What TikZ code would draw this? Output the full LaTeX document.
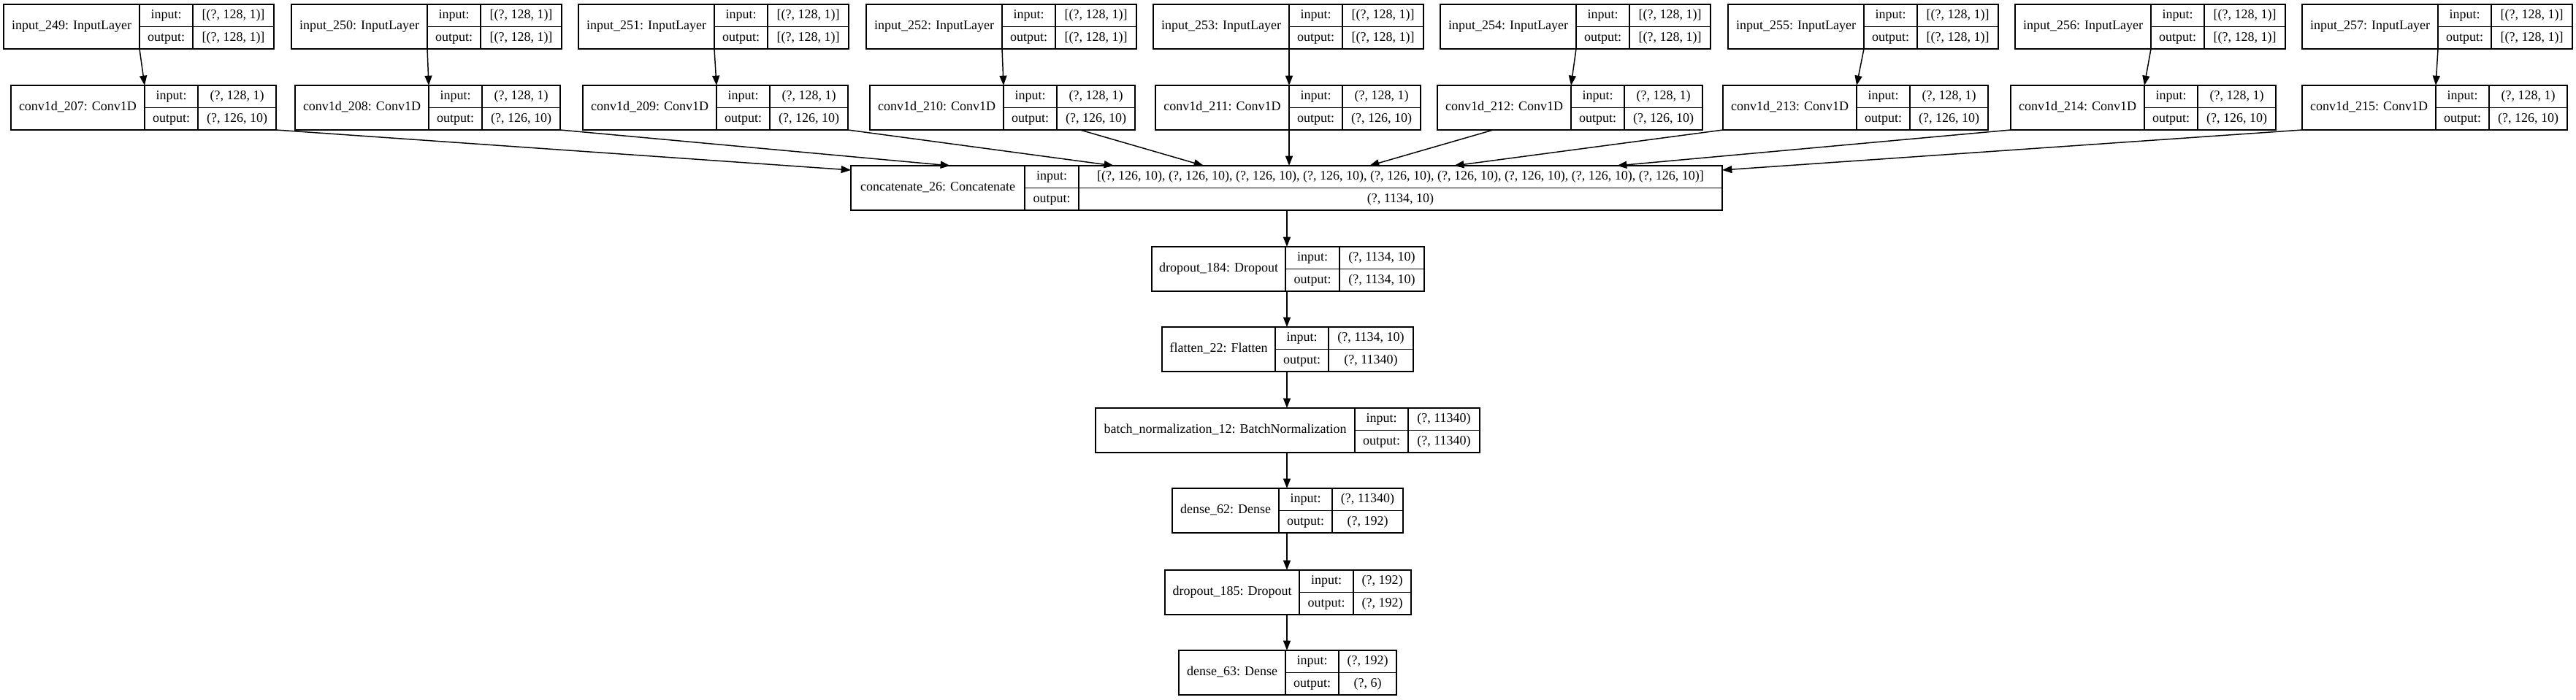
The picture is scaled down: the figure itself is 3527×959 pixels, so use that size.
\documentclass[tikz,border=0pt]{standalone}
\usepackage{fontspec}
\setmainfont{Liberation Serif}
\usetikzlibrary{arrows.meta,calc}

\tikzset{every picture/.style={line width=1.1pt}}
\tikzset{
  cellbox/.style={draw, anchor=north west, inner sep=0pt, outer sep=0pt,
    text height=9.5pt, text depth=3pt, font=\fontsize{13.5}{16}\selectfont},
  namebox/.style={cellbox, minimum height=45.75pt},
  halfbox/.style={cellbox, minimum height=22.875pt},
  flow/.style={-{Triangle[length=10pt,width=7.5pt]}},
}

% #1 name, #2 #3 top left (px), #4 #5 #6 cell widths (px), #7 title, #8 input, #9 output
\newcommand{\keraslayer}[9]{%
  \node[namebox, minimum width=#4*0.75pt] (#1) at (#2,#3) {#7};
  \node[halfbox, minimum width=#5*0.75pt] (#1-il) at (#1.north east) {input:};
  \node[halfbox, minimum width=#6*0.75pt] (#1-iv) at (#1-il.north east) {#8};
  \node[halfbox, minimum width=#5*0.75pt] (#1-ol) at (#1-il.south west) {output:};
  \node[halfbox, minimum width=#6*0.75pt] (#1-ov) at (#1-ol.north east) {#9};
}

\begin{document}
\begin{tikzpicture}[x=0.75pt,y=0.75pt,yscale=-1,xscale=1]
\useasboundingbox (0,0) rectangle (3527,959);

% Input layers
\keraslayer{in249}{5}{6}{186}{73}{111}{input\_249: InputLayer}{[(?, 128, 1)]}{[(?, 128, 1)]}
\keraslayer{in250}{399}{6}{186}{73}{111}{input\_250: InputLayer}{[(?, 128, 1)]}{[(?, 128, 1)]}
\keraslayer{in251}{792}{6}{186}{73}{111}{input\_251: InputLayer}{[(?, 128, 1)]}{[(?, 128, 1)]}
\keraslayer{in252}{1186}{6}{186}{73}{111}{input\_252: InputLayer}{[(?, 128, 1)]}{[(?, 128, 1)]}
\keraslayer{in253}{1579}{6}{186}{73}{111}{input\_253: InputLayer}{[(?, 128, 1)]}{[(?, 128, 1)]}
\keraslayer{in254}{1972}{6}{186}{73}{111}{input\_254: InputLayer}{[(?, 128, 1)]}{[(?, 128, 1)]}
\keraslayer{in255}{2366}{6}{186}{73}{111}{input\_255: InputLayer}{[(?, 128, 1)]}{[(?, 128, 1)]}
\keraslayer{in256}{2759}{6}{186}{73}{111}{input\_256: InputLayer}{[(?, 128, 1)]}{[(?, 128, 1)]}
\keraslayer{in257}{3152}{6}{186}{73}{111}{input\_257: InputLayer}{[(?, 128, 1)]}{[(?, 128, 1)]}

% Conv layers
\keraslayer{c207}{15}{117}{183}{73}{107}{conv1d\_207: Conv1D}{(?, 128, 1)}{(?, 126, 10)}
\keraslayer{c208}{404}{117}{183}{73}{107}{conv1d\_208: Conv1D}{(?, 128, 1)}{(?, 126, 10)}
\keraslayer{c209}{798}{117}{183}{73}{107}{conv1d\_209: Conv1D}{(?, 128, 1)}{(?, 126, 10)}
\keraslayer{c210}{1191}{117}{183}{73}{107}{conv1d\_210: Conv1D}{(?, 128, 1)}{(?, 126, 10)}
\keraslayer{c211}{1582}{117}{183}{73}{107}{conv1d\_211: Conv1D}{(?, 128, 1)}{(?, 126, 10)}
\keraslayer{c212}{1968}{117}{183}{73}{107}{conv1d\_212: Conv1D}{(?, 128, 1)}{(?, 126, 10)}
\keraslayer{c213}{2359}{117}{183}{73}{107}{conv1d\_213: Conv1D}{(?, 128, 1)}{(?, 126, 10)}
\keraslayer{c214}{2753}{117}{183}{73}{107}{conv1d\_214: Conv1D}{(?, 128, 1)}{(?, 126, 10)}
\keraslayer{c215}{3152}{117}{183}{73}{107}{conv1d\_215: Conv1D}{(?, 128, 1)}{(?, 126, 10)}

% Main column
\keraslayer{cat}{1165}{227}{238}{74}{881}{concatenate\_26: Concatenate}{[(?, 126, 10), (?, 126, 10), (?, 126, 10), (?, 126, 10), (?, 126, 10), (?, 126, 10), (?, 126, 10), (?, 126, 10), (?, 126, 10)]}{(?, 1134, 10)}
\keraslayer{d184}{1577}{338}{183}{74}{116}{dropout\_184: Dropout}{(?, 1134, 10)}{(?, 1134, 10)}
\keraslayer{fl22}{1591}{448}{155}{73}{116}{flatten\_22: Flatten}{(?, 1134, 10)}{(?, 11340)}
\keraslayer{bn12}{1500}{559}{355}{73}{98}{batch\_normalization\_12: BatchNormalization}{(?, 11340)}{(?, 11340)}
\keraslayer{de62}{1605}{669}{146}{73}{97}{dense\_62: Dense}{(?, 11340)}{(?, 192)}
\keraslayer{d185}{1595}{781}{184}{74}{79}{dropout\_185: Dropout}{(?, 192)}{(?, 192)}
\keraslayer{de63}{1614}{891}{146}{73}{79}{dense\_63: Dense}{(?, 192)}{(?, 6)}

% Input -> conv
\draw[flow] (in249.south east) -- (c207.north east);
\draw[flow] (in250.south east) -- (c208.north east);
\draw[flow] (in251.south east) -- (c209.north east);
\draw[flow] (in252.south east) -- (c210.north east);
\draw[flow] (in253.south east) -- (c211.north east);
\draw[flow] (in254.south east) -- (c212.north east);
\draw[flow] (in255.south east) -- (c213.north east);
\draw[flow] (in256.south east) -- (c214.north east);
\draw[flow] (in257.south east) -- (c215.north east);

% Conv -> concatenate
\draw[flow] (c207-ov.south east) -- ($(cat.north west)+(0,6)$);
\draw[flow] (c208-ov.south east) -- ($(cat.north west)+(136,0)$);
\draw[flow] (c209-ov.south east) -- ($(cat-iv.north west)+(48,0)$);
\draw[flow] ($(c210-ov.south west)+(32,0)$) -- ($(cat-iv.north west)+(171,0)$);
\draw[flow] (c211.south east) -- (c211.south east |- cat.north);
\draw[flow] ($(c212.south)+(-15,0)$) -- ($(cat-iv.north west)+(398,0)$);
\draw[flow] (c213.south west) -- ($(cat-iv.north west)+(514,0)$);
\draw[flow] (c214.south west) -- ($(cat-iv.north west)+(737,0)$);
\draw[flow] (c215.south west) -- ($(cat-iv.north east)+(0,6)$);

% Main column arrows
\coordinate (spine) at ($(cat-iv.north west)+(285,0)$);
\draw[flow] (cat.south -| spine) -- (d184.north -| spine);
\draw[flow] (d184.south -| spine) -- (fl22.north -| spine);
\draw[flow] (fl22.south -| spine) -- (bn12.north -| spine);
\draw[flow] (bn12.south -| spine) -- (de62.north -| spine);
\draw[flow] (de62.south -| spine) -- (d185.north -| spine);
\draw[flow] (d185.south -| spine) -- (de63.north -| spine);
\end{tikzpicture}
\end{document}
